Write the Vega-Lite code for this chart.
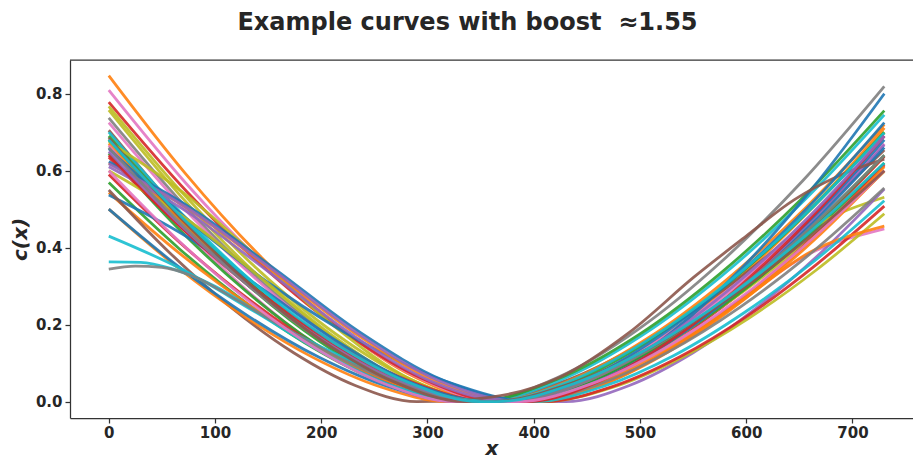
{
"$schema":"https://vega.github.io/schema/vega-lite/v6.json",
"width":843,"height":358,
"autosize":{"type":"none"},
"padding":{"left":70,"top":60,"right":0,"bottom":41},
"background":"white",
"title":{"text":"Example curves with boost\u00a0 ≈1.55","font":"DejaVu Sans","fontSize":24,"fontWeight":"bold","color":"#262626","anchor":"middle","frame":"group","dx":-24,"baseline":"alphabetic","offset":5},
"config":{"view":{"stroke":null},
"axis":{"labelFont":"DejaVu Sans","labelFontSize":15,"labelFontWeight":"bold","labelColor":"#262626","tickColor":"#333333","tickWidth":1.25,"tickSize":5,"domainColor":"#333333","domainWidth":1.25,"grid":false,"titleFont":"DejaVu Sans","titleFontSize":20,"titleFontWeight":"bold","titleFontStyle":"italic","titleColor":"#262626","labelFlush":false}},
"layer":[
{"data":{"values":[
{"id":"c01","x":0,"y":0.847},{"id":"c01","x":72,"y":0.593},{"id":"c01","x":144,"y":0.374},{"id":"c01","x":216,"y":0.195},{"id":"c01","x":288,"y":0.064},{"id":"c01","x":360,"y":0},{"id":"c01","x":380,"y":0},{"id":"c01","x":450,"y":0.054},{"id":"c01","x":520,"y":0.164},{"id":"c01","x":590,"y":0.314},{"id":"c01","x":660,"y":0.498},{"id":"c01","x":730,"y":0.711},
{"id":"c02","x":0,"y":0.809},{"id":"c02","x":73,"y":0.566},{"id":"c02","x":146,"y":0.357},{"id":"c02","x":219,"y":0.187},{"id":"c02","x":292,"y":0.062},{"id":"c02","x":365,"y":0},{"id":"c02","x":385,"y":0},{"id":"c02","x":454,"y":0.052},{"id":"c02","x":523,"y":0.159},{"id":"c02","x":592,"y":0.304},{"id":"c02","x":661,"y":0.482},{"id":"c02","x":730,"y":0.689},
{"id":"c03","x":0,"y":0.778},{"id":"c03","x":74,"y":0.544},{"id":"c03","x":148,"y":0.344},{"id":"c03","x":222,"y":0.18},{"id":"c03","x":296,"y":0.059},{"id":"c03","x":370,"y":0},{"id":"c03","x":390,"y":0},{"id":"c03","x":458,"y":0.048},{"id":"c03","x":526,"y":0.147},{"id":"c03","x":594,"y":0.281},{"id":"c03","x":662,"y":0.446},{"id":"c03","x":730,"y":0.637},
{"id":"c04","x":0,"y":0.767},{"id":"c04","x":71,"y":0.537},{"id":"c04","x":142,"y":0.339},{"id":"c04","x":213,"y":0.177},{"id":"c04","x":284,"y":0.058},{"id":"c04","x":355,"y":0},{"id":"c04","x":370,"y":0},{"id":"c04","x":442,"y":0.046},{"id":"c04","x":514,"y":0.138},{"id":"c04","x":586,"y":0.264},{"id":"c04","x":658,"y":0.418},{"id":"c04","x":730,"y":0.598},
{"id":"c05","x":0,"y":0.757},{"id":"c05","x":69,"y":0.53},{"id":"c05","x":138,"y":0.334},{"id":"c05","x":207,"y":0.175},{"id":"c05","x":276,"y":0.058},{"id":"c05","x":345,"y":0},{"id":"c05","x":360,"y":0},{"id":"c05","x":434,"y":0.053},{"id":"c05","x":508,"y":0.162},{"id":"c05","x":582,"y":0.309},{"id":"c05","x":656,"y":0.49},{"id":"c05","x":730,"y":0.7},
{"id":"c06","x":0,"y":0.737},{"id":"c06","x":69,"y":0.516},{"id":"c06","x":138,"y":0.325},{"id":"c06","x":207,"y":0.17},{"id":"c06","x":276,"y":0.056},{"id":"c06","x":345,"y":0},{"id":"c06","x":422,"y":0.062},{"id":"c06","x":499,"y":0.189},{"id":"c06","x":576,"y":0.362},{"id":"c06","x":653,"y":0.573},{"id":"c06","x":730,"y":0.819},
{"id":"c07","x":0,"y":0.725},{"id":"c07","x":69,"y":0.507},{"id":"c07","x":138,"y":0.32},{"id":"c07","x":207,"y":0.167},{"id":"c07","x":276,"y":0.055},{"id":"c07","x":345,"y":0},{"id":"c07","x":370,"y":0},{"id":"c07","x":442,"y":0.036},{"id":"c07","x":514,"y":0.126},{"id":"c07","x":586,"y":0.247},{"id":"c07","x":658,"y":0.382},{"id":"c07","x":730,"y":0.449},
{"id":"c08","x":0,"y":0.705},{"id":"c08","x":66,"y":0.493},{"id":"c08","x":132,"y":0.311},{"id":"c08","x":198,"y":0.163},{"id":"c08","x":264,"y":0.054},{"id":"c08","x":330,"y":0},{"id":"c08","x":350,"y":0},{"id":"c08","x":426,"y":0.05},{"id":"c08","x":502,"y":0.151},{"id":"c08","x":578,"y":0.289},{"id":"c08","x":654,"y":0.458},{"id":"c08","x":730,"y":0.654},
{"id":"c09","x":0,"y":0.7},{"id":"c09","x":68,"y":0.49},{"id":"c09","x":136,"y":0.309},{"id":"c09","x":204,"y":0.162},{"id":"c09","x":272,"y":0.053},{"id":"c09","x":340,"y":0},{"id":"c09","x":350,"y":0},{"id":"c09","x":426,"y":0.057},{"id":"c09","x":502,"y":0.172},{"id":"c09","x":578,"y":0.329},{"id":"c09","x":654,"y":0.521},{"id":"c09","x":730,"y":0.745},
{"id":"c10","x":0,"y":0.69},{"id":"c10","x":67,"y":0.483},{"id":"c10","x":134,"y":0.305},{"id":"c10","x":201,"y":0.159},{"id":"c10","x":268,"y":0.053},{"id":"c10","x":335,"y":0},{"id":"c10","x":345,"y":0},{"id":"c10","x":422,"y":0.058},{"id":"c10","x":499,"y":0.174},{"id":"c10","x":576,"y":0.334},{"id":"c10","x":653,"y":0.529},{"id":"c10","x":730,"y":0.756},
{"id":"c11","x":0,"y":0.68},{"id":"c11","x":66,"y":0.476},{"id":"c11","x":132,"y":0.3},{"id":"c11","x":198,"y":0.157},{"id":"c11","x":264,"y":0.052},{"id":"c11","x":330,"y":0},{"id":"c11","x":380,"y":0},{"id":"c11","x":450,"y":0.047},{"id":"c11","x":520,"y":0.143},{"id":"c11","x":590,"y":0.274},{"id":"c11","x":660,"y":0.434},{"id":"c11","x":730,"y":0.62},
{"id":"c12","x":0,"y":0.675},{"id":"c12","x":71,"y":0.541},{"id":"c12","x":142,"y":0.37},{"id":"c12","x":213,"y":0.194},{"id":"c12","x":284,"y":0.058},{"id":"c12","x":355,"y":0},{"id":"c12","x":390,"y":0},{"id":"c12","x":458,"y":0.042},{"id":"c12","x":526,"y":0.149},{"id":"c12","x":594,"y":0.292},{"id":"c12","x":662,"y":0.451},{"id":"c12","x":730,"y":0.531},
{"id":"c13","x":0,"y":0.67},{"id":"c13","x":68,"y":0.469},{"id":"c13","x":136,"y":0.296},{"id":"c13","x":204,"y":0.155},{"id":"c13","x":272,"y":0.051},{"id":"c13","x":340,"y":0},{"id":"c13","x":360,"y":0},{"id":"c13","x":434,"y":0.055},{"id":"c13","x":508,"y":0.166},{"id":"c13","x":582,"y":0.318},{"id":"c13","x":656,"y":0.504},{"id":"c13","x":730,"y":0.72},
{"id":"c14","x":0,"y":0.665},{"id":"c14","x":64,"y":0.465},{"id":"c14","x":128,"y":0.294},{"id":"c14","x":192,"y":0.153},{"id":"c14","x":256,"y":0.051},{"id":"c14","x":320,"y":0},{"id":"c14","x":370,"y":0},{"id":"c14","x":442,"y":0.051},{"id":"c14","x":514,"y":0.155},{"id":"c14","x":586,"y":0.296},{"id":"c14","x":658,"y":0.469},{"id":"c14","x":730,"y":0.67},
{"id":"c15","x":0,"y":0.657},{"id":"c15","x":80,"y":0.46},{"id":"c15","x":160,"y":0.29},{"id":"c15","x":240,"y":0.152},{"id":"c15","x":320,"y":0.05},{"id":"c15","x":400,"y":0},{"id":"c15","x":466,"y":0.061},{"id":"c15","x":532,"y":0.185},{"id":"c15","x":598,"y":0.353},{"id":"c15","x":664,"y":0.56},{"id":"c15","x":730,"y":0.8},
{"id":"c16","x":0,"y":0.645},{"id":"c16","x":65,"y":0.451},{"id":"c16","x":130,"y":0.285},{"id":"c16","x":195,"y":0.149},{"id":"c16","x":260,"y":0.049},{"id":"c16","x":325,"y":0},{"id":"c16","x":365,"y":0},{"id":"c16","x":438,"y":0.053},{"id":"c16","x":511,"y":0.162},{"id":"c16","x":584,"y":0.309},{"id":"c16","x":657,"y":0.49},{"id":"c16","x":730,"y":0.7},
{"id":"c17","x":0,"y":0.635},{"id":"c17","x":72,"y":0.444},{"id":"c17","x":144,"y":0.28},{"id":"c17","x":216,"y":0.147},{"id":"c17","x":288,"y":0.048},{"id":"c17","x":360,"y":0},{"id":"c17","x":400,"y":0},{"id":"c17","x":466,"y":0.047},{"id":"c17","x":532,"y":0.142},{"id":"c17","x":598,"y":0.272},{"id":"c17","x":664,"y":0.43},{"id":"c17","x":730,"y":0.615},
{"id":"c18","x":0,"y":0.62},{"id":"c18","x":77,"y":0.497},{"id":"c18","x":154,"y":0.34},{"id":"c18","x":231,"y":0.179},{"id":"c18","x":308,"y":0.053},{"id":"c18","x":385,"y":0},{"id":"c18","x":400,"y":0},{"id":"c18","x":466,"y":0.046},{"id":"c18","x":532,"y":0.141},{"id":"c18","x":598,"y":0.269},{"id":"c18","x":664,"y":0.427},{"id":"c18","x":730,"y":0.61},
{"id":"c19","x":0,"y":0.623},{"id":"c19","x":79,"y":0.5},{"id":"c19","x":158,"y":0.341},{"id":"c19","x":237,"y":0.179},{"id":"c19","x":316,"y":0.054},{"id":"c19","x":395,"y":0},{"id":"c19","x":462,"y":0.052},{"id":"c19","x":529,"y":0.157},{"id":"c19","x":596,"y":0.3},{"id":"c19","x":663,"y":0.476},{"id":"c19","x":730,"y":0.68},
{"id":"c20","x":0,"y":0.618},{"id":"c20","x":78,"y":0.496},{"id":"c20","x":156,"y":0.339},{"id":"c20","x":234,"y":0.178},{"id":"c20","x":312,"y":0.053},{"id":"c20","x":390,"y":0},{"id":"c20","x":458,"y":0.051},{"id":"c20","x":526,"y":0.154},{"id":"c20","x":594,"y":0.295},{"id":"c20","x":662,"y":0.467},{"id":"c20","x":730,"y":0.667},
{"id":"c21","x":0,"y":0.61},{"id":"c21","x":76,"y":0.489},{"id":"c21","x":152,"y":0.334},{"id":"c21","x":228,"y":0.176},{"id":"c21","x":304,"y":0.052},{"id":"c21","x":380,"y":0},{"id":"c21","x":430,"y":0},{"id":"c21","x":490,"y":0.042},{"id":"c21","x":550,"y":0.127},{"id":"c21","x":610,"y":0.244},{"id":"c21","x":670,"y":0.386},{"id":"c21","x":730,"y":0.552},
{"id":"c22","x":0,"y":0.6},{"id":"c22","x":70,"y":0.481},{"id":"c22","x":140,"y":0.329},{"id":"c22","x":210,"y":0.173},{"id":"c22","x":280,"y":0.052},{"id":"c22","x":350,"y":0},{"id":"c22","x":410,"y":0},{"id":"c22","x":474,"y":0.037},{"id":"c22","x":538,"y":0.113},{"id":"c22","x":602,"y":0.216},{"id":"c22","x":666,"y":0.342},{"id":"c22","x":730,"y":0.488},
{"id":"c23","x":0,"y":0.59},{"id":"c23","x":67,"y":0.413},{"id":"c23","x":134,"y":0.261},{"id":"c23","x":201,"y":0.136},{"id":"c23","x":268,"y":0.045},{"id":"c23","x":335,"y":0},{"id":"c23","x":410,"y":0},{"id":"c23","x":474,"y":0.039},{"id":"c23","x":538,"y":0.117},{"id":"c23","x":602,"y":0.224},{"id":"c23","x":666,"y":0.356},{"id":"c23","x":730,"y":0.508},
{"id":"c24","x":0,"y":0.569},{"id":"c24","x":66,"y":0.398},{"id":"c24","x":132,"y":0.251},{"id":"c24","x":198,"y":0.131},{"id":"c24","x":264,"y":0.043},{"id":"c24","x":330,"y":0},{"id":"c24","x":380,"y":0},{"id":"c24","x":450,"y":0.049},{"id":"c24","x":520,"y":0.148},{"id":"c24","x":590,"y":0.283},{"id":"c24","x":660,"y":0.448},{"id":"c24","x":730,"y":0.64},
{"id":"c25","x":0,"y":0.543},{"id":"c25","x":69,"y":0.38},{"id":"c25","x":138,"y":0.24},{"id":"c25","x":207,"y":0.125},{"id":"c25","x":276,"y":0.041},{"id":"c25","x":345,"y":0},{"id":"c25","x":380,"y":0},{"id":"c25","x":450,"y":0.036},{"id":"c25","x":520,"y":0.128},{"id":"c25","x":590,"y":0.251},{"id":"c25","x":660,"y":0.388},{"id":"c25","x":730,"y":0.456},
{"id":"c26","x":0,"y":0.537},{"id":"c26","x":72,"y":0.431},{"id":"c26","x":144,"y":0.294},{"id":"c26","x":216,"y":0.155},{"id":"c26","x":288,"y":0.046},{"id":"c26","x":360,"y":0},{"id":"c26","x":390,"y":0},{"id":"c26","x":458,"y":0.05},{"id":"c26","x":526,"y":0.152},{"id":"c26","x":594,"y":0.291},{"id":"c26","x":662,"y":0.462},{"id":"c26","x":730,"y":0.66},
{"id":"c27","x":0,"y":0.55},{"id":"c27","x":58,"y":0.385},{"id":"c27","x":116,"y":0.243},{"id":"c27","x":174,"y":0.127},{"id":"c27","x":232,"y":0.042},{"id":"c27","x":290,"y":0},{"id":"c27","x":360,"y":0.012},{"id":"c27","x":425,"y":0.064},{"id":"c27","x":490,"y":0.18},{"id":"c27","x":551,"y":0.324},{"id":"c27","x":600,"y":0.43},{"id":"c27","x":645,"y":0.524},{"id":"c27","x":690,"y":0.59},{"id":"c27","x":730,"y":0.63},
{"id":"c28","x":0,"y":0.5},{"id":"c28","x":64,"y":0.35},{"id":"c28","x":128,"y":0.221},{"id":"c28","x":192,"y":0.115},{"id":"c28","x":256,"y":0.038},{"id":"c28","x":320,"y":0},{"id":"c28","x":400,"y":0},{"id":"c28","x":466,"y":0.046},{"id":"c28","x":532,"y":0.138},{"id":"c28","x":598,"y":0.265},{"id":"c28","x":664,"y":0.42},{"id":"c28","x":730,"y":0.6},
{"id":"c29","x":0,"y":0.5},{"id":"c29","x":66,"y":0.35},{"id":"c29","x":132,"y":0.221},{"id":"c29","x":198,"y":0.115},{"id":"c29","x":264,"y":0.038},{"id":"c29","x":330,"y":0},{"id":"c29","x":375,"y":0},{"id":"c29","x":446,"y":0.055},{"id":"c29","x":517,"y":0.167},{"id":"c29","x":588,"y":0.32},{"id":"c29","x":659,"y":0.507},{"id":"c29","x":730,"y":0.725},
{"id":"c30","x":0,"y":0.43},{"id":"c30","x":68,"y":0.345},{"id":"c30","x":136,"y":0.236},{"id":"c30","x":204,"y":0.124},{"id":"c30","x":272,"y":0.037},{"id":"c30","x":340,"y":0},{"id":"c30","x":360,"y":0},{"id":"c30","x":434,"y":0.053},{"id":"c30","x":508,"y":0.161},{"id":"c30","x":582,"y":0.308},{"id":"c30","x":656,"y":0.488},{"id":"c30","x":730,"y":0.698},
{"id":"c31","x":0,"y":0.363},{"id":"c31","x":30,"y":0.362},{"id":"c31","x":60,"y":0.345},{"id":"c31","x":100,"y":0.3},{"id":"c31","x":150,"y":0.215},{"id":"c31","x":209,"y":0.13},{"id":"c31","x":260,"y":0.065},{"id":"c31","x":300,"y":0.025},{"id":"c31","x":340,"y":0.004},{"id":"c31","x":365,"y":0},{"id":"c31","x":400,"y":0},{"id":"c31","x":466,"y":0.04},{"id":"c31","x":532,"y":0.12},{"id":"c31","x":598,"y":0.231},{"id":"c31","x":664,"y":0.365},{"id":"c31","x":730,"y":0.522},
{"id":"c32","x":0,"y":0.344},{"id":"c32","x":25,"y":0.352},{"id":"c32","x":50,"y":0.349},{"id":"c32","x":80,"y":0.325},{"id":"c32","x":120,"y":0.265},{"id":"c32","x":160,"y":0.2},{"id":"c32","x":209,"y":0.125},{"id":"c32","x":260,"y":0.06},{"id":"c32","x":300,"y":0.025},{"id":"c32","x":350,"y":0},{"id":"c32","x":390,"y":0},{"id":"c32","x":458,"y":0.042},{"id":"c32","x":526,"y":0.128},{"id":"c32","x":594,"y":0.245},{"id":"c32","x":662,"y":0.388},{"id":"c32","x":730,"y":0.555},
{"id":"c33","x":0,"y":0.64},{"id":"c33","x":70,"y":0.448},{"id":"c33","x":140,"y":0.283},{"id":"c33","x":210,"y":0.148},{"id":"c33","x":280,"y":0.049},{"id":"c33","x":350,"y":0},{"id":"c33","x":395,"y":0},{"id":"c33","x":462,"y":0.053},{"id":"c33","x":529,"y":0.159},{"id":"c33","x":596,"y":0.305},{"id":"c33","x":663,"y":0.483},{"id":"c33","x":730,"y":0.69},
{"id":"c34","x":0,"y":0.65},{"id":"c34","x":69,"y":0.455},{"id":"c34","x":138,"y":0.287},{"id":"c34","x":207,"y":0.15},{"id":"c34","x":276,"y":0.049},{"id":"c34","x":345,"y":0},{"id":"c34","x":380,"y":0},{"id":"c34","x":450,"y":0.053},{"id":"c34","x":520,"y":0.159},{"id":"c34","x":590,"y":0.305},{"id":"c34","x":660,"y":0.483},{"id":"c34","x":730,"y":0.69},
{"id":"c35","x":0,"y":0.66},{"id":"c35","x":68,"y":0.462},{"id":"c35","x":136,"y":0.291},{"id":"c35","x":204,"y":0.152},{"id":"c35","x":272,"y":0.05},{"id":"c35","x":340,"y":0},{"id":"c35","x":375,"y":0},{"id":"c35","x":446,"y":0.049},{"id":"c35","x":517,"y":0.148},{"id":"c35","x":588,"y":0.283},{"id":"c35","x":659,"y":0.448},{"id":"c35","x":730,"y":0.64},
{"id":"c36","x":0,"y":0.6},{"id":"c36","x":65,"y":0.42},{"id":"c36","x":130,"y":0.265},{"id":"c36","x":195,"y":0.138},{"id":"c36","x":260,"y":0.046},{"id":"c36","x":325,"y":0},{"id":"c36","x":385,"y":0},{"id":"c36","x":454,"y":0.046},{"id":"c36","x":523,"y":0.138},{"id":"c36","x":592,"y":0.265},{"id":"c36","x":661,"y":0.42},{"id":"c36","x":730,"y":0.6},
{"id":"c37","x":0,"y":0.685},{"id":"c37","x":67,"y":0.479},{"id":"c37","x":134,"y":0.302},{"id":"c37","x":201,"y":0.158},{"id":"c37","x":268,"y":0.052},{"id":"c37","x":335,"y":0},{"id":"c37","x":360,"y":0},{"id":"c37","x":434,"y":0.046},{"id":"c37","x":508,"y":0.138},{"id":"c37","x":582,"y":0.265},{"id":"c37","x":656,"y":0.42},{"id":"c37","x":730,"y":0.6},
{"id":"c38","x":0,"y":0.68},{"id":"c38","x":70,"y":0.476},{"id":"c38","x":140,"y":0.3},{"id":"c38","x":210,"y":0.157},{"id":"c38","x":280,"y":0.052},{"id":"c38","x":350,"y":0},{"id":"c38","x":365,"y":0},{"id":"c38","x":438,"y":0.047},{"id":"c38","x":511,"y":0.143},{"id":"c38","x":584,"y":0.274},{"id":"c38","x":657,"y":0.434},{"id":"c38","x":730,"y":0.62}
]},
"mark":{"type":"line","interpolate":"monotone","strokeWidth":2.8,"opacity":0.9,"clip":true},
"encoding":{
"x":{"field":"x","type":"quantitative","scale":{"domain":[-36.5,757],"nice":false,"zero":false},"axis":{"values":[0,100,200,300,400,500,600,700],"title":"x","titlePadding":-2,"labelPadding":2}},
"y":{"field":"y","type":"quantitative","scale":{"domain":[-0.0425,0.8875],"nice":false,"zero":false},"axis":{"values":[0,0.2,0.4,0.6,0.8],"format":".1f","title":"c(x)","titlePadding":5,"labelPadding":3}},
"color":{"field":"id","type":"nominal","legend":null,"scale":{"domain":["c01","c02","c03","c04","c05","c06","c07","c08","c09","c10","c11","c12","c13","c14","c15","c16","c17","c18","c19","c20","c21","c22","c23","c24","c25","c26","c27","c28","c29","c30","c31","c32","c33","c34","c35","c36","c37","c38"],
"range":["#ff7f0e","#e377c2","#d62728","#bcbd22","#bcbd22","#7f7f7f","#e377c2","#8c564b","#17becf","#2ca02c","#2ca02c","#bcbd22","#ff7f0e","#e377c2","#1f77b4","#2ca02c","#d62728","#ff7f0e","#1f77b4","#9467bd","#9467bd","#bcbd22","#d62728","#2ca02c","#ff7f0e","#1f77b4","#8c564b","#ff7f0e","#1f77b4","#17becf","#17becf","#7f7f7f","#d62728","#9467bd","#7f7f7f","#e377c2","#8c564b","#17becf"]}}
}},
{"data":{"values":[{}]},"mark":{"type":"rule","color":"#333333","strokeWidth":1.25},"encoding":{"y":{"datum":0.8875}}}
]
}
